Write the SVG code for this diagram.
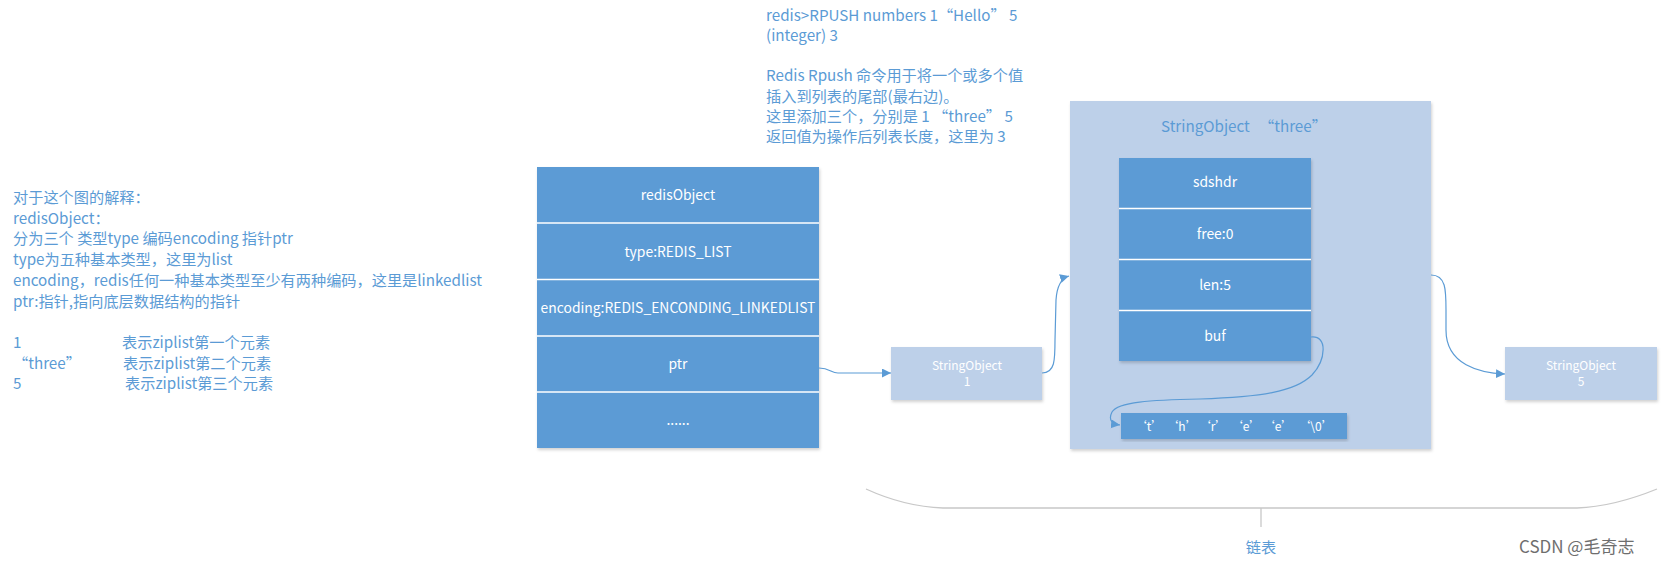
<svg xmlns="http://www.w3.org/2000/svg" width="1665" height="565" viewBox="0 0 1665 565">
<defs>
<style>
text{font-family:'Noto Sans CJK SC','Liberation Sans',sans-serif}
.note{fill:#5b9bd5;font-size:15.2px}
.w{fill:#ffffff;font-size:13.9px;text-anchor:middle}
.ws{fill:#ffffff;font-size:12px;text-anchor:middle}
.dark{fill:#5b9bd5}
.light{fill:#bdd0e9}
.div{stroke:#ffffff;stroke-width:1.5}
.conn{fill:none;stroke:#5b9bd5;stroke-width:1.2}
.brace{fill:none;stroke:#c8c8c8;stroke-width:1.3}
</style>
<filter id="sh" x="-5%" y="-5%" width="115%" height="115%">
<feDropShadow dx="1" dy="2" stdDeviation="1.5" flood-color="#000" flood-opacity="0.18"/>
</filter>
<marker id="arr" markerWidth="10" markerHeight="10" refX="9" refY="4.5" orient="auto" markerUnits="userSpaceOnUse">
<path d="M0,0 L9,4.5 L0,9 Z" fill="#5b9bd5"/>
</marker>
</defs>
<rect width="1665" height="565" fill="#ffffff"/>

<g id="notes-left" class="note">
<text x="13" y="203">对于这个图的解释：</text>
<text x="13" y="223.7">redisObject：</text>
<text x="13" y="244.4">分为三个 类型type 编码encoding 指针ptr</text>
<text x="13" y="265.1">type为五种基本类型，这里为list</text>
<text x="13" y="285.8">encoding，redis任何一种基本类型至少有两种编码，这里是linkedlist</text>
<text x="13" y="306.5">ptr:指针,指向底层数据结构的指针</text>
<text x="13" y="348">1</text><text x="122" y="348">表示ziplist第一个元素</text>
<text x="13" y="368.6">“three”</text><text x="123" y="368.6">表示ziplist第二个元素</text>
<text x="13" y="389.3">5</text><text x="125" y="389.3">表示ziplist第三个元素</text>
</g>

<g id="notes-top" class="note">
<text x="766" y="21">redis&gt;RPUSH numbers 1“Hello” 5</text>
<text x="766" y="40.5">(integer) 3</text>
<text x="766" y="81">Redis Rpush 命令用于将一个或多个值</text>
<text x="766" y="101.5">插入到列表的尾部(最右边)。</text>
<text x="766" y="121.8">这里添加三个，分别是 1 “three” 5</text>
<text x="766" y="142">返回值为操作后列表长度，这里为 3</text>
</g>

<g id="redisObject">
<rect class="dark" x="537" y="167" width="282" height="281" filter="url(#sh)"/>
<line class="div" x1="537" y1="223" x2="819" y2="223"/>
<line class="div" x1="537" y1="279.5" x2="819" y2="279.5"/>
<line class="div" x1="537" y1="336" x2="819" y2="336"/>
<line class="div" x1="537" y1="392" x2="819" y2="392"/>
<text class="w" x="678" y="200">redisObject</text>
<text class="w" x="678" y="257">type:REDIS_LIST</text>
<text class="w" x="678" y="313">encoding:REDIS_ENCONDING_LINKEDLIST</text>
<text class="w" x="678" y="369">ptr</text>
<text class="w" x="678" y="425">......</text>
</g>

<g id="stringobject-1">
<rect class="light" x="891" y="347" width="151" height="53" filter="url(#sh)"/>
<text class="ws" x="967" y="370">StringObject</text>
<text class="ws" x="967" y="386">1</text>
</g>

<g id="stringobject-three">
<rect class="light" x="1070" y="101" width="361" height="348" filter="url(#sh)"/>
<text class="note" x="1161" y="132" font-size="14.5">StringObject</text>
<text class="note" x="1259" y="132" font-size="14.5">“three”</text>
</g>

<g id="sdshdr">
<rect class="dark" x="1119" y="158" width="192" height="203" filter="url(#sh)"/>
<line class="div" x1="1119" y1="208.5" x2="1311" y2="208.5"/>
<line class="div" x1="1119" y1="259.5" x2="1311" y2="259.5"/>
<line class="div" x1="1119" y1="310.5" x2="1311" y2="310.5"/>
<text class="w" x="1215" y="187">sdshdr</text>
<text class="w" x="1215" y="239">free:0</text>
<text class="w" x="1215" y="290">len:5</text>
<text class="w" x="1215" y="341">buf</text>
</g>

<g id="buf-chars">
<rect class="dark" x="1121" y="413" width="226" height="26" filter="url(#sh)"/>
<text class="ws" x="1149" y="431">‘t’</text>
<text class="ws" x="1182" y="431">‘h’</text>
<text class="ws" x="1213" y="431">‘r’</text>
<text class="ws" x="1246" y="431">‘e’</text>
<text class="ws" x="1278" y="431">‘e’</text>
<text class="ws" x="1316" y="431">‘\0’</text>
</g>

<g id="stringobject-5">
<rect class="light" x="1505" y="347" width="152" height="53" filter="url(#sh)"/>
<text class="ws" x="1581" y="370">StringObject</text>
<text class="ws" x="1581" y="386">5</text>
</g>

<g id="connectors">
<path class="conn" d="M819,368 C830,368 831,373 838,373 L891,373" marker-end="url(#arr)"/>
<path class="conn" d="M1042,373 C1055,373 1055,360 1055,340 L1056,300 C1057,285 1062,278 1069,276" marker-end="url(#arr)"/>
<path class="conn" d="M1311,337 C1328,335 1326,360 1312,375 C1295,392 1260,397 1200,399 C1150,400 1118,402 1112,412 C1108,420 1112,424 1120,425" marker-end="url(#arr)"/>
<path class="conn" d="M1431,275 C1446,275 1446,290 1446,310 L1446,330 C1446,365 1480,373 1505,374" marker-end="url(#arr)"/>
</g>

<g id="brace-linked-list">
<path class="brace" d="M866,489 C890,500 915,507 943,508 L1577,508 C1605,507 1630,500 1657,489"/>
<path class="brace" d="M1261,508 V527"/>
<text class="note" x="1261" y="553" text-anchor="middle">链表</text>
</g>

<g id="watermark">
<text x="1519" y="553" fill="#6e6e6e" font-size="17">CSDN @毛奇志</text>
</g>
</svg>
